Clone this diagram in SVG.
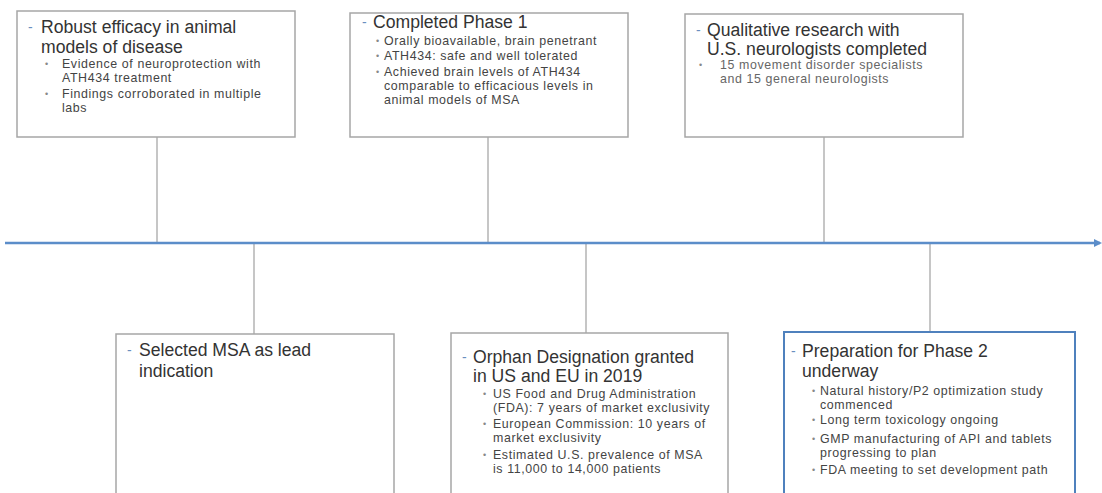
<svg xmlns="http://www.w3.org/2000/svg" width="1102" height="493" viewBox="0 0 1102 493">
<style>
text{font-family:"Liberation Sans",Arial,sans-serif}
.box{fill:#fff;stroke:#a6a6a6;stroke-width:1.5}
.bbox{fill:#fff;stroke:#4f81bd;stroke-width:2}
.t{font-size:17.6px;fill:#333}
.b{font-size:12.4px;fill:#444;letter-spacing:0.6px}
.b3{font-size:12.4px;fill:#666;letter-spacing:0.6px}
.d{font-size:14px;fill:#6a8fbf}
.dot{font-size:9px;fill:#888}
.con{stroke:#a0a0a0;stroke-width:1.2;fill:none}
</style>
<defs>
<marker id="ah" markerWidth="8" markerHeight="8" refX="6" refY="4" orient="auto" markerUnits="userSpaceOnUse">
<path d="M0,0 L8,4 L0,8 z" fill="#5b8dc9"/>
</marker>
</defs>
<g id="connectors">
<line class="con" x1="157" y1="137" x2="157" y2="243"/>
<line class="con" x1="488" y1="137" x2="488" y2="243"/>
<line class="con" x1="824" y1="137" x2="824" y2="243"/>
<line class="con" x1="254" y1="243" x2="254" y2="334"/>
<line class="con" x1="586" y1="243" x2="586" y2="333"/>
<line class="con" x1="930" y1="243" x2="930" y2="332"/>
<line x1="5" y1="243" x2="1100" y2="243" stroke="#5b8dc9" stroke-width="2.5" marker-end="url(#ah)"/>
</g>
<g id="n1">
<rect class="box" x="17" y="11" width="278" height="126"/>
<text class="d" x="28" y="32">-</text>
<text class="t" x="41" y="33">Robust efficacy in animal</text>
<text class="t" x="41" y="53">models of disease</text>
<text class="dot" x="45" y="67">•</text>
<text class="b" x="62" y="68">Evidence of neuroprotection with</text>
<text class="b" x="62" y="82">ATH434 treatment</text>
<text class="dot" x="45" y="97">•</text>
<text class="b" x="62" y="98">Findings corroborated in multiple</text>
<text class="b" x="62" y="112">labs</text>
</g>
<g id="n2">
<rect class="box" x="350" y="13" width="278" height="124"/>
<text class="d" x="362" y="27">-</text>
<text class="t" x="373" y="28">Completed Phase 1</text>
<text class="dot" x="376" y="44">•</text>
<text class="b" x="384" y="45">Orally bioavailable, brain penetrant</text>
<text class="dot" x="376" y="59">•</text>
<text class="b" x="384" y="60">ATH434: safe and well tolerated</text>
<text class="dot" x="376" y="75">•</text>
<text class="b" x="384" y="76">Achieved brain levels of ATH434</text>
<text class="b" x="384" y="90">comparable to efficacious levels in</text>
<text class="b" x="384" y="104">animal models of MSA</text>
</g>
<g id="n3">
<rect class="box" x="685" y="14" width="278" height="123"/>
<text class="d" x="696" y="35">-</text>
<text class="t" x="707" y="36">Qualitative research with</text>
<text class="t" x="707" y="55">U.S. neurologists completed</text>
<text class="dot" x="699" y="68">•</text>
<text class="b3" x="720" y="69">15 movement disorder specialists</text>
<text class="b3" x="720" y="83">and 15 general neurologists</text>
</g>
<g id="n4">
<rect class="box" x="116" y="334" width="278" height="170"/>
<text class="d" x="127" y="355">-</text>
<text class="t" x="139" y="356">Selected MSA as lead</text>
<text class="t" x="139" y="377">indication</text>
</g>
<g id="n5">
<rect class="box" x="451" y="333" width="277" height="170"/>
<text class="d" x="462" y="362">-</text>
<text class="t" x="473" y="363">Orphan Designation granted</text>
<text class="t" x="473" y="382">in US and EU in 2019</text>
<text class="dot" x="483" y="397">•</text>
<text class="b" x="493" y="398">US Food and Drug Administration</text>
<text class="b" x="493" y="412">(FDA): 7 years of market exclusivity</text>
<text class="dot" x="483" y="427">•</text>
<text class="b" x="493" y="428">European Commission: 10 years of</text>
<text class="b" x="493" y="442">market exclusivity</text>
<text class="dot" x="483" y="458">•</text>
<text class="b" x="493" y="459">Estimated U.S. prevalence of MSA</text>
<text class="b" x="493" y="473">is 11,000 to 14,000 patients</text>
</g>
<g id="n6">
<rect class="bbox" x="784" y="332" width="291" height="172"/>
<text class="d" x="791" y="356">-</text>
<text class="t" x="802" y="357">Preparation for Phase 2</text>
<text class="t" x="802" y="377">underway</text>
<text class="dot" x="812" y="394">•</text>
<text class="b" x="820" y="395">Natural history/P2 optimization study</text>
<text class="b" x="820" y="409">commenced</text>
<text class="dot" x="812" y="423">•</text>
<text class="b" x="820" y="424">Long term toxicology ongoing</text>
<text class="dot" x="812" y="442">•</text>
<text class="b" x="820" y="443">GMP manufacturing of API and tablets</text>
<text class="b" x="820" y="457">progressing to plan</text>
<text class="dot" x="812" y="473">•</text>
<text class="b" x="820" y="474">FDA meeting to set development path</text>
</g>
</svg>
